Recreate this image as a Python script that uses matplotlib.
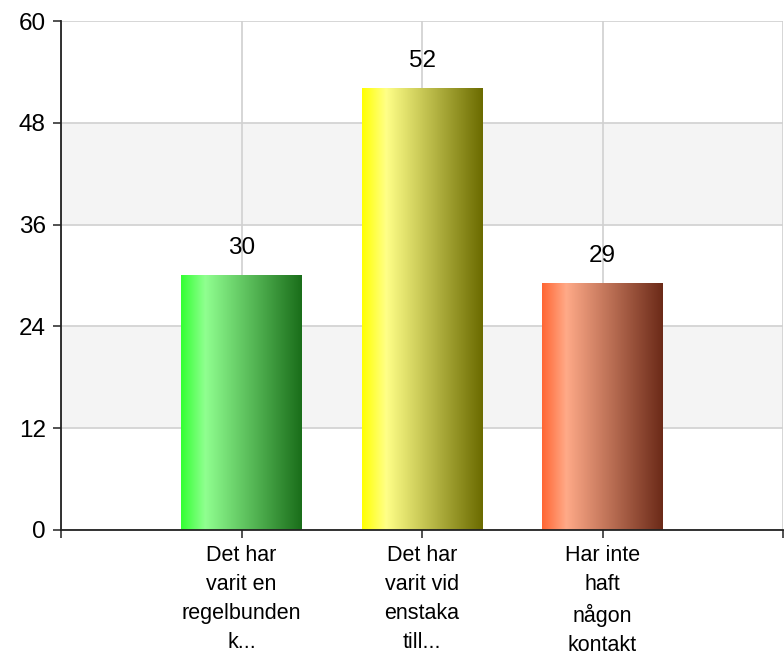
from matplotlib import pyplot as plt
from matplotlib.colors import LinearSegmentedColormap
import numpy as np

plt.rcParams['font.family'] = ['Liberation Sans', 'DejaVu Sans']

labels = ["Det har\nvarit en\nregelbunden\nk...",
          "Det har\nvarit vid\nenstaka\ntill...",
          "Har inte\nhaft\nnågon\nkontakt"]
values = [30, 52, 29]
# gradient stops for each bar: left, highlight, right
bar_colors = [["#33ff33", "#90ff90", "#1a6e1a"],
              ["#ffff00", "#ffff88", "#6b6b00"],
              ["#ff6633", "#ffaa88", "#6b2a18"]]
yticks = [0, 12, 24, 36, 48, 60]

fig = plt.figure(figsize=(7.84, 6.6), dpi=100)
ax = fig.add_axes([61/784, 1 - 530/660, (783 - 61)/784, (530 - 21)/660])

x = np.arange(len(values))
width = 0.665

# alternating light bands
for lo in [12, 36]:
    ax.axhspan(lo, lo + 12, color="#f4f4f4", zorder=0, lw=0)

ax.set_axisbelow(True)
ax.grid(True, color="#d0d0d0", lw=1.2)

grad = np.linspace(0, 1, 256).reshape(1, -1)
for i, v in enumerate(values):
    cmap = LinearSegmentedColormap.from_list(
        "g%d" % i, [(0, bar_colors[i][0]), (0.2, bar_colors[i][1]), (1, bar_colors[i][2])])
    ax.imshow(grad, cmap=cmap, aspect="auto",
              extent=[x[i] - width/2, x[i] + width/2, 0, v], zorder=2)
    ax.text(x[i], v + 2.0, str(v), ha="center", va="bottom", fontsize=17.5, zorder=3)

ax.set_xlim(-1, 3)
ax.set_ylim(0, 60)
ax.set_xticks([-1, 0, 1, 2, 3])
ax.set_xticklabels([""] + labels + [""], fontsize=15.5, linespacing=1.5)
ax.set_yticks(yticks)
ax.set_yticklabels([str(t) for t in yticks], fontsize=17.5)
ax.tick_params(axis="both", length=6, width=1.2, color="#333333", pad=5)
ax.tick_params(axis="y", pad=5)

for s in ["top", "right"]:
    ax.spines[s].set_visible(False)
ax.spines["left"].set_color("#222222")
ax.spines["bottom"].set_color("#222222")
ax.spines["left"].set_linewidth(1.3)
ax.spines["bottom"].set_linewidth(1.3)

fig.savefig("out.png", dpi=100)
